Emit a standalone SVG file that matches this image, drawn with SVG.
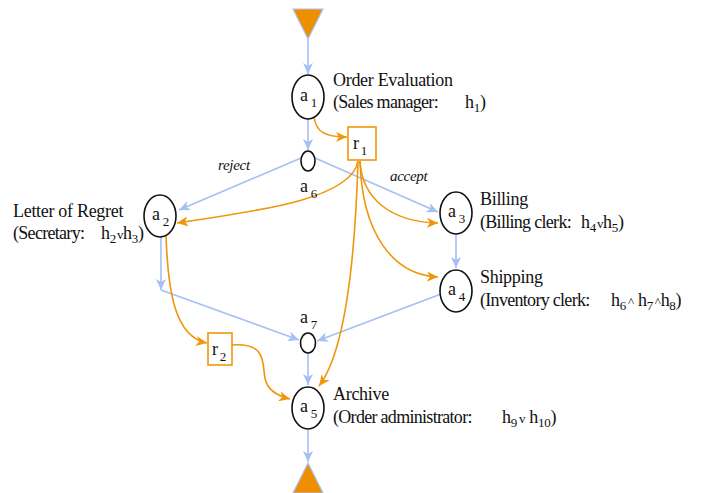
<svg xmlns="http://www.w3.org/2000/svg" width="709" height="493" viewBox="0 0 709 493" font-family="Liberation Serif, Times New Roman, serif">
<style>
text{font-family:"Liberation Serif","Times New Roman",serif;font-size:18px;fill:#111;letter-spacing:-0.3px}
text.role{letter-spacing:-0.7px}
.node{fill:#fff;stroke:#111;stroke-width:1.6}
.box{fill:#fff;stroke:#f0960a;stroke-width:1.6}
.tri{fill:#ee8f00;stroke:#a9c4f5;stroke-width:1.2}
.b{fill:none;stroke:#a4c0f4;stroke-width:1.6}
.o{fill:none;stroke:#f0960a;stroke-width:1.6}
.sub{font-size:13px}
.it{font-style:italic;font-size:15px}
</style>
<defs>
<marker id="ab" markerWidth="12" markerHeight="10" refX="11" refY="5" orient="auto" markerUnits="userSpaceOnUse">
<path d="M0,0 L11,5 L0,10 L3,5 Z" fill="#a4c0f4"/>
</marker>
<marker id="ao" markerWidth="12" markerHeight="10" refX="11" refY="5" orient="auto" markerUnits="userSpaceOnUse">
<path d="M0,0 L11,5 L0,10 L3,5 Z" fill="#f0960a"/>
</marker>
</defs>
<g id="connectors">
<path class="b" d="M308,39 L308,74" marker-end="url(#ab)"/>
<path class="b" d="M308,119 L308,150" marker-end="url(#ab)"/>
<path class="b" d="M301,158 L179,210" marker-end="url(#ab)"/>
<path class="b" d="M315,158 L438,212" marker-end="url(#ab)"/>
<path class="b" d="M456,234 L456,268" marker-end="url(#ab)"/>
<path class="b" d="M161,237 L161,290" marker-end="url(#ab)"/>
<path class="b" d="M161,290 L299,340" marker-end="url(#ab)"/>
<path class="b" d="M441,294 L317,341" marker-end="url(#ab)"/>
<path class="b" d="M308,353 L308,385" marker-end="url(#ab)"/>
<path class="b" d="M308,430 L308,462" marker-end="url(#ab)"/>
<path class="o" d="M314,117 C316,132 325,137 347,137" marker-end="url(#ao)"/>
<path class="o" d="M358,161 C352,200 250,212 177,223" marker-end="url(#ao)"/>
<path class="o" d="M360,161 C362,198 390,222 438,223" marker-end="url(#ao)"/>
<path class="o" d="M360,161 C362,232 392,275 438,277" marker-end="url(#ao)"/>
<path class="o" d="M358,161 C355,262 345,352 319,386" marker-end="url(#ao)"/>
<path class="o" d="M166,236 C168,292 175,337 207,343" marker-end="url(#ao)"/>
<path class="o" d="M232,345 C268,342 262,365 265,378 C267,390 278,396 290,399" marker-end="url(#ao)"/>
</g>
<g id="start"><path class="tri" d="M293,9 L323,9 L308,39 Z"/></g>
<g id="end"><path class="tri" d="M308,463 L323,493 L293,493 Z"/></g>
<g id="a1">
<ellipse class="node" cx="308" cy="97" rx="16" ry="22"/>
<text x="300" y="101">a<tspan class="sub" dx="3" dy="6">1</tspan></text>
<text x="333" y="86">Order Evaluation</text>
<text class="role" x="333" y="108">(Sales manager:</text>
<text x="465" y="108">h<tspan class="sub" dy="4">1</tspan><tspan dy="-4">)</tspan></text>
</g>
<g id="r1">
<rect class="box" x="348" y="127" width="28" height="33"/>
<text x="353" y="149">r<tspan class="sub" dx="2" dy="6">1</tspan></text>
</g>
<g id="a6">
<ellipse class="node" cx="308" cy="161" rx="7" ry="10"/>
<text x="300" y="192">a<tspan class="sub" dx="3" dy="6">6</tspan></text>
</g>
<g id="a2">
<ellipse class="node" cx="160" cy="216" rx="16" ry="21"/>
<text x="152" y="220">a<tspan class="sub" dx="3" dy="6">2</tspan></text>
<text x="13" y="217">Letter of Regret</text>
<text class="role" x="13" y="239">(Secretary:</text>
<text x="101" y="239">h<tspan class="sub" dy="4">2</tspan><tspan class="sub" dy="-4" dx="1">v</tspan>h<tspan class="sub" dy="4">3</tspan><tspan dy="-4">)</tspan></text>
</g>
<g id="a3">
<ellipse class="node" cx="456" cy="213" rx="16" ry="21"/>
<text x="448" y="217">a<tspan class="sub" dx="3" dy="6">3</tspan></text>
<text x="480" y="205">Billing</text>
<text class="role" x="480" y="228">(Billing clerk:</text>
<text x="581" y="228">h<tspan class="sub" dy="4">4</tspan><tspan class="sub" dy="-4" dx="1">v</tspan>h<tspan class="sub" dy="4">5</tspan><tspan dy="-4">)</tspan></text>
</g>
<g id="a4">
<ellipse class="node" cx="456" cy="291" rx="16" ry="21"/>
<text x="448" y="295">a<tspan class="sub" dx="3" dy="6">4</tspan></text>
<text x="480" y="283">Shipping</text>
<text class="role" x="480" y="306">(Inventory clerk:</text>
<text x="611" y="306">h<tspan class="sub" dy="4">6</tspan><tspan class="sub" dy="-4" dx="2">^</tspan> h<tspan class="sub" dy="4">7</tspan><tspan class="sub" dy="-4" dx="2">^</tspan>h<tspan class="sub" dy="4">8</tspan><tspan dy="-4">)</tspan></text>
</g>
<g id="a7">
<ellipse class="node" cx="308" cy="343" rx="7.5" ry="10"/>
<text x="300" y="323">a<tspan class="sub" dx="3" dy="6">7</tspan></text>
</g>
<g id="r2">
<rect class="box" x="208" y="333" width="24" height="32"/>
<text x="212" y="355">r<tspan class="sub" dx="2" dy="6">2</tspan></text>
</g>
<g id="a5">
<ellipse class="node" cx="308" cy="408" rx="16" ry="21"/>
<text x="300" y="412">a<tspan class="sub" dx="3" dy="6">5</tspan></text>
<text x="333" y="400">Archive</text>
<text class="role" x="333" y="423">(Order administrator:</text>
<text x="502" y="423">h<tspan class="sub" dy="4">9</tspan><tspan class="sub" dy="-4" dx="2">v</tspan> h<tspan class="sub" dy="4">10</tspan><tspan dy="-4">)</tspan></text>
</g>
<g id="labels">
<text class="it" x="218" y="170">reject</text>
<text class="it" x="390" y="181">accept</text>
</g>
</svg>
